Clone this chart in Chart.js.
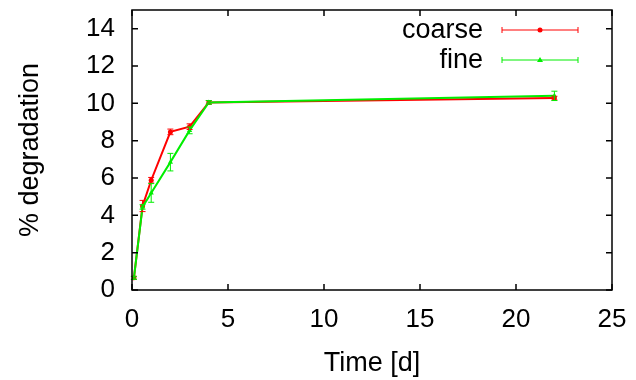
<!DOCTYPE html>
<html>
<head>
<meta charset="utf-8">
<script src="https://cdn.jsdelivr.net/npm/chart.js@4"></script>
<style>
  html, body { margin: 0; padding: 0; background: #fff; }
  #wrap { width: 636px; height: 380px; }
</style>
</head>
<body>
<div id="wrap"><canvas id="chart" width="636" height="380"></canvas></div>
<script>
const timeCoarse = [0.1, 0.55, 1, 2, 3, 4, 22];
const degCoarse = [0.65, 4.5, 5.88, 8.47, 8.75, 10.05, 10.28];
const errCoarse = [0.08, 0.3, 0.15, 0.15, 0.15, 0.1, 0.1];

const timeFine = [0.1, 0.55, 1, 2, 3, 4, 22];
const degFine = [0.65, 4.45, 5.2, 6.85, 8.55, 10.05, 10.4];
const errFine = [0.08, 0.12, 0.5, 0.47, 0.18, 0.1, 0.25];

const xTicks = [0, 5, 10, 15, 20, 25];
const yTicks = [0, 2, 4, 6, 8, 10, 12, 14];

const FONT = "'Liberation Sans', Arial, Helvetica, sans-serif";
const RED = "#ff0000";
const GREEN = "#00ee00";

const seriesList = [
  { label: "coarse", xs: timeCoarse, ys: degCoarse, errs: errCoarse, color: RED, style: "circle", radius: 2.5, order: 1 },
  { label: "fine", xs: timeFine, ys: degFine, errs: errFine, color: GREEN, style: "triangle", radius: 3, order: 0 },
];

function drawErrorBar(ctx, x, yTop, yBot, color) {
  ctx.strokeStyle = color;
  ctx.lineWidth = 1;
  ctx.beginPath();
  ctx.moveTo(x, yTop);
  ctx.lineTo(x, yBot);
  ctx.moveTo(x - 3, yTop);
  ctx.lineTo(x + 3, yTop);
  ctx.moveTo(x - 3, yBot);
  ctx.lineTo(x + 3, yBot);
  ctx.stroke();
}

const errorBars = {
  id: "errorBars",
  afterDatasetsDraw(chart) {
    const { ctx, scales: { x, y } } = chart;
    ctx.save();
    seriesList.forEach((s) => {
      s.xs.forEach((t, i) => {
        const px = x.getPixelForValue(t);
        drawErrorBar(ctx, px, y.getPixelForValue(s.ys[i] + s.errs[i]), y.getPixelForValue(s.ys[i] - s.errs[i]), s.color);
      });
    });
    ctx.restore();
  },
};

// gnuplot style frame with inward, mirrored ticks
const frame = {
  id: "frame",
  afterDraw(chart) {
    const { ctx, chartArea: a, scales: { x, y } } = chart;
    ctx.save();
    ctx.strokeStyle = "#000";
    ctx.lineWidth = 1.5;
    ctx.strokeRect(a.left, a.top, a.right - a.left, a.bottom - a.top);
    ctx.beginPath();
    xTicks.forEach((v) => {
      const px = x.getPixelForValue(v);
      ctx.moveTo(px, a.bottom);
      ctx.lineTo(px, a.bottom - 6);
      ctx.moveTo(px, a.top);
      ctx.lineTo(px, a.top + 6);
    });
    yTicks.forEach((v) => {
      const py = y.getPixelForValue(v);
      ctx.moveTo(a.left, py);
      ctx.lineTo(a.left + 6, py);
      ctx.moveTo(a.right, py);
      ctx.lineTo(a.right - 6, py);
    });
    ctx.stroke();
    ctx.restore();
  },
};

const keyBox = {
  id: "keyBox",
  afterDraw(chart) {
    const { ctx } = chart;
    ctx.save();
    ctx.font = `27px ${FONT}`;
    ctx.textAlign = "right";
    ctx.textBaseline = "middle";
    seriesList.forEach((s, i) => {
      const cy = 30 + i * 30;
      ctx.fillStyle = "#000";
      ctx.fillText(s.label, 483, cy + 1);
      ctx.strokeStyle = s.color;
      ctx.lineWidth = 1;
      ctx.beginPath();
      ctx.moveTo(502, cy);
      ctx.lineTo(578, cy);
      ctx.moveTo(502, cy - 3);
      ctx.lineTo(502, cy + 3);
      ctx.moveTo(578, cy - 3);
      ctx.lineTo(578, cy + 3);
      ctx.stroke();
      ctx.fillStyle = s.color;
      ctx.beginPath();
      if (s.style === "circle") {
        ctx.arc(540, cy, 2.5, 0, Math.PI * 2);
      } else {
        ctx.moveTo(540, cy - 3);
        ctx.lineTo(543, cy + 2);
        ctx.lineTo(537, cy + 2);
        ctx.closePath();
      }
      ctx.fill();
    });
    ctx.restore();
  },
};

function noEdgePadding(scale) {
  scale.paddingTop = 0;
  scale.paddingBottom = 0;
  scale.paddingLeft = 0;
  scale.paddingRight = 0;
}

new Chart(document.querySelector("#chart"), {
  type: "scatter",
  data: {
    datasets: seriesList.map((s) => ({
      label: s.label,
      data: s.xs.map((t, i) => ({ x: t, y: s.ys[i] })),
      showLine: true,
      borderColor: s.color,
      backgroundColor: s.color,
      borderWidth: 2,
      pointStyle: s.style,
      pointRadius: s.radius,
      pointBorderWidth: 0,
      order: s.order,
    })),
  },
  options: {
    responsive: false,
    animation: false,
    layout: { padding: { left: 12, right: 24, top: 10, bottom: 0 } },
    plugins: { legend: { display: false }, tooltip: { enabled: false } },
    scales: {
      x: {
        min: 0,
        max: 25,
        afterBuildTicks: (scale) => { scale.ticks = xTicks.map((v) => ({ value: v })); },
        afterFit: (scale) => { scale.height = 90; noEdgePadding(scale); },
        grid: { display: false, drawTicks: false },
        border: { display: false },
        ticks: { color: "#000", padding: 14, maxRotation: 0, font: { family: FONT, size: 26 } },
        title: { display: true, text: "Time [d]", color: "#000", padding: { top: 0, bottom: 0 }, font: { family: FONT, size: 27 } },
      },
      y: {
        min: 0,
        max: 15,
        afterBuildTicks: (scale) => { scale.ticks = yTicks.map((v) => ({ value: v })); },
        afterFit: (scale) => { scale.width = 120; noEdgePadding(scale); },
        grid: { display: false, drawTicks: false },
        border: { display: false },
        ticks: { color: "#000", padding: 17, font: { family: FONT, size: 26 } },
        title: { display: true, text: "% degradation", color: "#000", padding: { top: 2, bottom: 0 }, font: { family: FONT, size: 27 } },
      },
    },
  },
  plugins: [errorBars, frame, keyBox],
});
</script>
</body>
</html>
